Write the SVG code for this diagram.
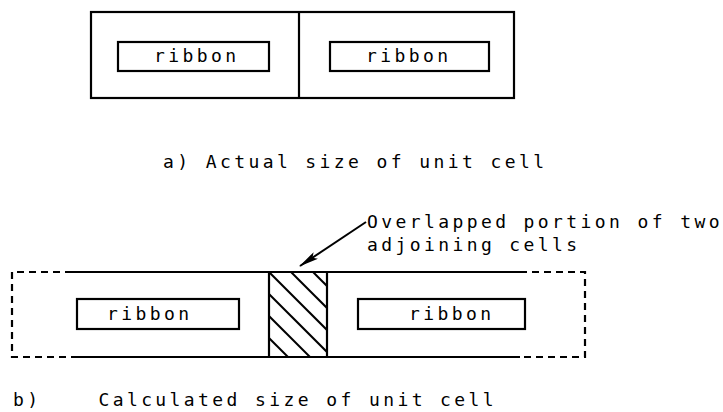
<svg xmlns="http://www.w3.org/2000/svg" width="723" height="412" viewBox="0 0 723 412">
  <style>
    .ln { fill: none; stroke: #000; stroke-width: 2.2; }
    .thin { fill: none; stroke: #000; stroke-width: 2; }
    .dash { fill: none; stroke: #000; stroke-width: 2.2; stroke-dasharray: 7 5; }
    .txt { font-family: "DejaVu Sans Mono", "Liberation Mono", monospace; font-size: 18px; letter-spacing: 3.4px; fill: #000; }
  </style>
  <defs>
    <marker id="arrowhead" viewBox="0 0 20 8" refX="19" refY="4" markerWidth="20" markerHeight="8" markerUnits="userSpaceOnUse" orient="auto">
      <path d="M0,0 L20,4 L0,8 L4,4 Z" fill="#000"/>
    </marker>
    <clipPath id="overlapClip">
      <rect x="269" y="272" width="58" height="85"/>
    </clipPath>
  </defs>

  <!-- (a) actual unit cell pair -->
  <g id="actual-cells">
    <rect class="ln" x="91" y="12" width="423" height="86"/>
    <line class="ln" x1="299" y1="12" x2="299" y2="98"/>
  </g>
  <g id="ribbon-a-left">
    <rect class="ln" x="118" y="42" width="151" height="29"/>
    <text class="txt" x="154" y="62">ribbon</text>
  </g>
  <g id="ribbon-a-right">
    <rect class="ln" x="330" y="42" width="159" height="29"/>
    <text class="txt" x="366" y="62">ribbon</text>
  </g>
  <g id="caption-a">
    <text class="txt" x="163" y="168">a) Actual size of unit cell</text>
  </g>

  <!-- (b) calculated unit cell -->
  <g id="calculated-cell">
    <line class="ln" x1="72" y1="272" x2="520" y2="272"/>
    <line class="ln" x1="72" y1="357" x2="520" y2="357"/>
    <path class="dash" d="M72,272 H12 V357 H72"/>
    <path class="dash" d="M520,272 H585 V357 H520"/>
  </g>
  <g id="overlap">
    <g clip-path="url(#overlapClip)" class="thin">
      <line x1="269" y1="272" x2="354" y2="357"/>
      <line x1="291" y1="272" x2="376" y2="357"/>
      <line x1="313" y1="272" x2="398" y2="357"/>
      <line x1="269" y1="294" x2="354" y2="379"/>
      <line x1="269" y1="316" x2="354" y2="401"/>
      <line x1="269" y1="338" x2="354" y2="423"/>
    </g>
    <line class="ln" x1="269" y1="272" x2="269" y2="357"/>
    <line class="ln" x1="327" y1="272" x2="327" y2="357"/>
  </g>
  <g id="ribbon-b-left">
    <rect class="ln" x="77" y="299" width="162" height="30"/>
    <text class="txt" x="107" y="320">ribbon</text>
  </g>
  <g id="ribbon-b-right">
    <rect class="ln" x="358" y="299" width="167" height="30"/>
    <text class="txt" x="409" y="320">ribbon</text>
  </g>
  <g id="overlap-label">
    <text class="txt" x="367" y="228">Overlapped portion of two</text>
    <text class="txt" x="367" y="251">adjoining cells</text>
  </g>
  <g id="caption-b">
    <text class="txt" x="13" y="406" xml:space="preserve">b)    Calculated size of unit cell</text>
  </g>

  <!-- leader arrow -->
  <g id="connectors">
    <line class="thin" x1="366" y1="222" x2="300" y2="266" marker-end="url(#arrowhead)"/>
  </g>
</svg>
